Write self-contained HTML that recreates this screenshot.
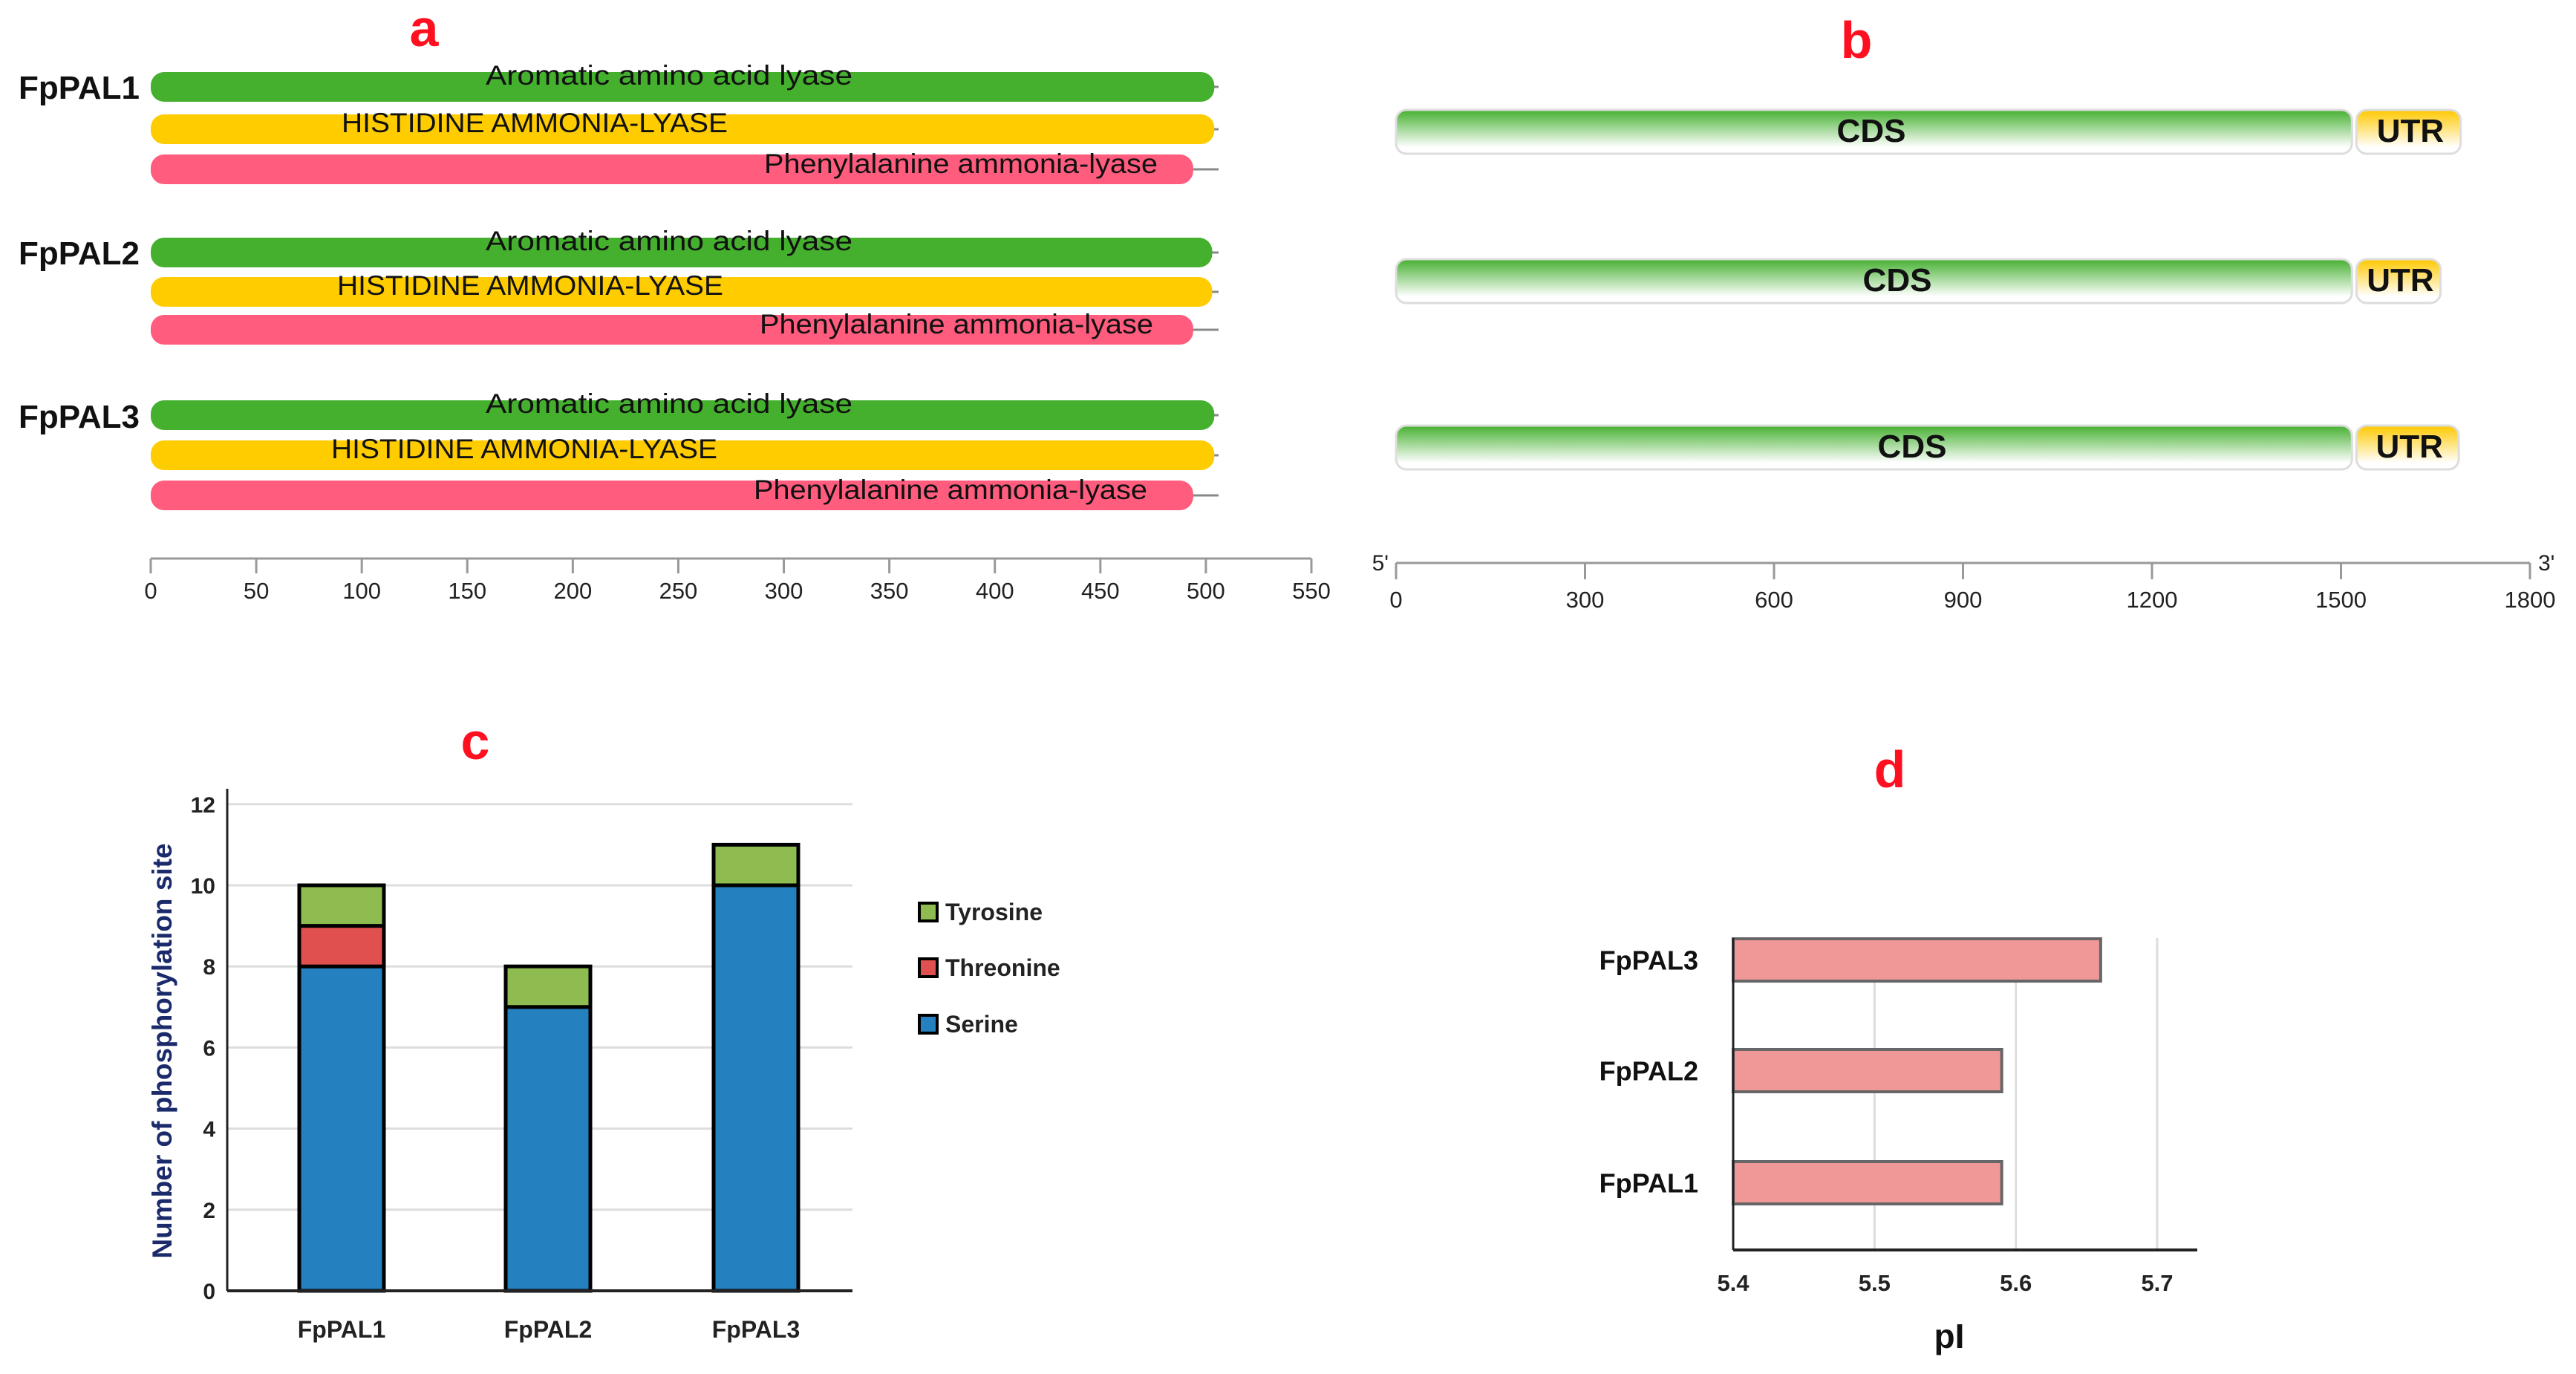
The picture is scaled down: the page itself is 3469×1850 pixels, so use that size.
<!DOCTYPE html>
<html><head><meta charset="utf-8"><style>
html,body{margin:0;padding:0;background:#fff;}
svg{display:block;font-family:"Liberation Sans",sans-serif;}
</style></head><body>
<svg id="fig" width="3469" height="1850" viewBox="0 0 3469 1850" xmlns="http://www.w3.org/2000/svg">
<defs>
<linearGradient id="gCds" x1="0" y1="0" x2="0" y2="1"><stop offset="0" stop-color="#45b030"/><stop offset="0.85" stop-color="#ffffff"/></linearGradient>
<linearGradient id="gUtr" x1="0" y1="0" x2="0" y2="1"><stop offset="0" stop-color="#ffc800"/><stop offset="0.85" stop-color="#ffffff"/></linearGradient>
</defs>
<g id="pa"></g>
<g id="pb"></g>
<g id="pc"></g>
<g id="pd"></g>
</svg>
<script>
// ---- Panel a data ----
const aGenes = ['FpPAL1','FpPAL2','FpPAL3'];
const aDomainNames = ['Aromatic amino acid lyase','HISTIDINE AMMONIA-LYASE','Phenylalanine ammonia-lyase'];
const aDomainEnd = [[504,504,494],[503,503,494],[504,504,494]];
const aProteinLen = [506,506,506];
const aTicks = [0,50,100,150,200,250,300,350,400,450,500,550];
// ---- Panel b data ----
const bCdsEnd = [1521,1521,1521];
const bUtrEnd = [1690,1658,1687];
const bTicks = [0,300,600,900,1200,1500,1800];
// ---- Panel c data ----
const cCats = ['FpPAL1','FpPAL2','FpPAL3'];
const cSerine = [8,7,10];
const cThreonine = [1,0,0];
const cTyrosine = [1,1,1];
const cTicks = [0,2,4,6,8,10,12];
// ---- Panel d data ----
const dCats = ['FpPAL1','FpPAL2','FpPAL3'];
const dPI = [5.59,5.59,5.66];
const dTicks = [5.4,5.5,5.6,5.7];

const NS='http://www.w3.org/2000/svg';
function mk(parent,tag,attrs,text){const e=document.createElementNS(NS,tag);for(const k in attrs)e.setAttribute(k,attrs[k]);if(text!==undefined)e.textContent=text;parent.appendChild(e);return e;}

// ===== Panel a =====
(function(){
const g=document.getElementById('pa');
const xa=v=>203+v*(1766-203)/550;
let t=mk(g,'text',{x:571,y:62,'font-size':70,'font-weight':'bold',fill:'#ff1020','text-anchor':'middle'},'a');


const rowTop=[[97,154,208],[320,373,424],[539,593,647]];
const cols=['#44b02e','#ffcc00','#ff5c7e'];
const textX=[901,720,1294];
const textDy=[17,24,25];
const labY=[117,340,560];
aGenes.forEach((gn,i)=>{
 let l=mk(g,'text',{x:25,y:labY[i]+16,'font-size':44,'font-weight':'bold',fill:'#111'},gn);
 
 
 for(let j=0;j<3;j++){
  const y=rowTop[i][j];
  let ln=mk(g,'line',{x1:xa(0),x2:xa(aProteinLen[i]),y1:y+20,y2:y+20,stroke:'#888','stroke-width':3});
  
  
  let r=mk(g,'rect',{x:xa(0),y:y,width:xa(aDomainEnd[i][j])-xa(0),height:40,rx:18,fill:cols[j]});
  
  
  let tx=mk(g,'text',{x:textX[j]-(j==0?0:(i==1?6:(i==2?14:0))),y:y+textDy[j],'font-size':37,fill:'#111','text-anchor':'middle',textLength:[494,520,530][j],lengthAdjust:'spacingAndGlyphs'},aDomainNames[j]);
  
  
 }
});
let ax=mk(g,'line',{x1:xa(0),x2:xa(550),y1:752,y2:752,stroke:'#999','stroke-width':3});


aTicks.forEach(v=>{
 let tk=mk(g,'line',{x1:xa(v),x2:xa(v),y1:752,y2:772,stroke:'#999','stroke-width':3});
 
 
 let tl=mk(g,'text',{x:xa(v),y:806,'font-size':31,fill:'#222','text-anchor':'middle'},String(v));
 
 
});
})();

// ===== Panel b =====
(function(){
const g=document.getElementById('pb');
const xb=v=>1880+v*(3407-1880)/1800;
let t=mk(g,'text',{x:2500,y:78,'font-size':70,'font-weight':'bold',fill:'#ff1020','text-anchor':'middle'},'b');


const tops=[148,349,573];
const cdsX=[2520,2555,2575];
bCdsEnd.forEach((c,i)=>{
 const y=tops[i];
 let cr=mk(g,'rect',{x:xb(0),y:y,width:xb(c)-xb(0)-3,height:59,rx:14,fill:'url(#gCds)',stroke:'#ddd','stroke-width':3});
 
 
 let ur=mk(g,'rect',{x:xb(c)+3,y:y,width:xb(bUtrEnd[i])-xb(c)-3,height:59,rx:14,fill:'url(#gUtr)',stroke:'#ddd','stroke-width':3});
 
 
 let ct=mk(g,'text',{x:cdsX[i],y:y+43,'font-size':44,'font-weight':'bold',fill:'#111','text-anchor':'middle'},'CDS');
 
 
 let ut=mk(g,'text',{x:(xb(c)+xb(bUtrEnd[i]))/2+4,y:y+43,'font-size':44,'font-weight':'bold',fill:'#111','text-anchor':'middle'},'UTR');
 
 
});
let ax=mk(g,'line',{x1:xb(0),x2:xb(1800),y1:758,y2:758,stroke:'#999','stroke-width':3});


bTicks.forEach(v=>{
 let tk=mk(g,'line',{x1:xb(v),x2:xb(v),y1:758,y2:780,stroke:'#999','stroke-width':3});
 
 
 let tl=mk(g,'text',{x:xb(v),y:818,'font-size':31,fill:'#222','text-anchor':'middle'},String(v));
 
 
});
let p5=mk(g,'text',{x:1870,y:768,'font-size':30,fill:'#222','text-anchor':'end'},"5'");


let p3=mk(g,'text',{x:3418,y:768,'font-size':30,fill:'#222'},"3'");


})();

// ===== Panel c =====
(function(){
const g=document.getElementById('pc');
const X0=306,XR=1148,Y0=1738,U=54.6;
const yc=v=>Y0-v*U;
const centers=[460,738,1018],bw=114;
let t=mk(g,'text',{x:640,y:1022,'font-size':70,'font-weight':'bold',fill:'#ff1020','text-anchor':'middle'},'c');


cTicks.forEach(v=>{
 if(v>0){let gl=mk(g,'line',{x1:X0,x2:XR,y1:yc(v),y2:yc(v),stroke:'#ddd','stroke-width':3});
 
 }
 let tl=mk(g,'text',{x:290,y:yc(v)+11,'font-size':30,'font-weight':'bold',fill:'#222','text-anchor':'end'},String(v));
 
 
});
const series=[[cSerine,'#2580c0','serine'],[cThreonine,'#e0504e','threonine'],[cTyrosine,'#8fbc50','tyrosine']];
cCats.forEach((c,i)=>{
 let base=0;
 series.forEach(s=>{
  const v=s[0][i];
  if(v>0){
   let r=mk(g,'rect',{x:centers[i]-bw/2,y:yc(base+v),width:bw,height:v*U,fill:s[1],stroke:'#000','stroke-width':5});
   
   
  }
  base+=v;
 });
 let cl=mk(g,'text',{x:centers[i],y:1801,'font-size':32,'font-weight':'bold',fill:'#222','text-anchor':'middle'},c);
 
 
});
let ya=mk(g,'line',{x1:X0,x2:X0,y1:1062,y2:Y0,stroke:'#222','stroke-width':3});


let xa=mk(g,'line',{x1:X0,x2:XR,y1:Y0,y2:Y0,stroke:'#222','stroke-width':4});


let yt=mk(g,'text',{x:0,y:0,'font-size':37,'font-weight':'bold',fill:'#1a2a6a','text-anchor':'middle',transform:'translate(231,1415) rotate(-90)'},'Number of phosphorylation site');


const leg=[['Tyrosine','#8fbc50',1228],['Threonine','#e0504e',1303],['Serine','#2580c0',1379]];
leg.forEach(l=>{
 let r=mk(g,'rect',{x:1238,y:l[2]-12,width:24,height:24,fill:l[1],stroke:'#000','stroke-width':4});
 
 
 let tx=mk(g,'text',{x:1273,y:l[2]+11,'font-size':32,'font-weight':'bold',fill:'#222'},l[0]);
 
 
});
})();

// ===== Panel d =====
(function(){
const g=document.getElementById('pd');
const X0=2334,Y0=1683,XR=2959;
const xd=v=>X0+(v-5.4)*(2905-X0)/0.3;
const rowTop=[1564,1413,1264],bh=57;
let t=mk(g,'text',{x:2545,y:1060,'font-size':70,'font-weight':'bold',fill:'#ff1020','text-anchor':'middle'},'d');


dTicks.forEach(v=>{
 if(v>5.4){let gl=mk(g,'line',{x1:xd(v),x2:xd(v),y1:1263,y2:Y0,stroke:'#ddd','stroke-width':3});
 
 }
 let tl=mk(g,'text',{x:xd(v),y:1738,'font-size':31,'font-weight':'bold',fill:'#222','text-anchor':'middle'},v.toFixed(1));
 
 
});
dCats.forEach((c,i)=>{
 let r=mk(g,'rect',{x:X0,y:rowTop[i],width:xd(dPI[i])-X0,height:bh,fill:'#f09898',stroke:'#666','stroke-width':4});
 
 
 let l=mk(g,'text',{x:2287,y:rowTop[i]+bh/2+13,'font-size':36,'font-weight':'bold',fill:'#111','text-anchor':'end'},c);
 
 
});
let ya=mk(g,'line',{x1:X0,x2:X0,y1:1263,y2:Y0,stroke:'#222','stroke-width':3});


let xa=mk(g,'line',{x1:X0,x2:XR,y1:Y0,y2:Y0,stroke:'#222','stroke-width':4});


let xt=mk(g,'text',{x:2625,y:1815,'font-size':46,'font-weight':'bold',fill:'#111','text-anchor':'middle'},'pI');


})();
</script>
</body></html>
